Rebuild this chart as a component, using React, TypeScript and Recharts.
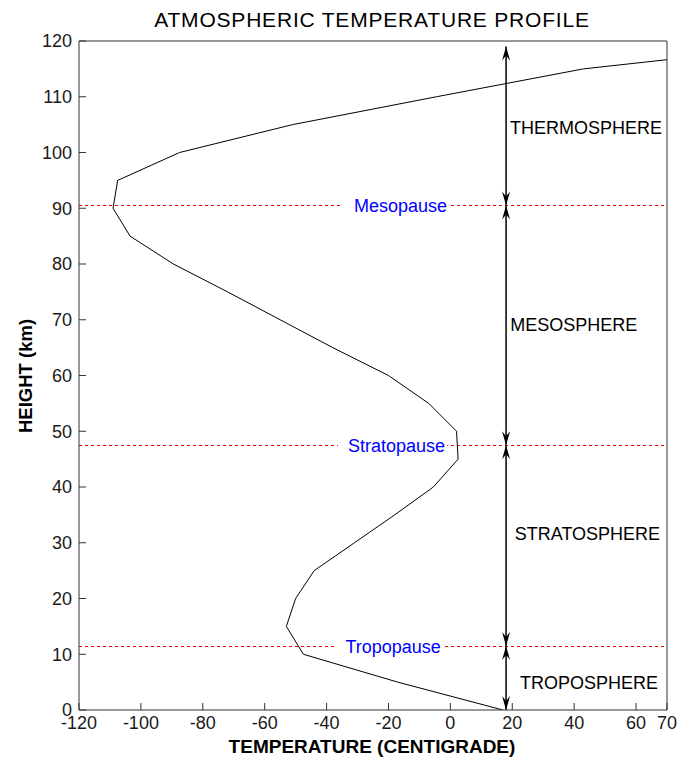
import { LineChart, Line, XAxis, YAxis, ReferenceLine, ReferenceDot } from 'recharts';

// height (km) and temperature (deg C)
const heights = [0, 5, 10, 15, 20, 25, 30, 35, 40, 45, 50, 55, 60, 65, 70, 75, 80, 85, 90, 95, 100, 105, 110, 115, 120];
const temps = [17, -17, -47.5, -53, -50, -44, -31, -18, -5.5, 2.5, 2, -7, -20, -38, -55, -72, -89.5, -103.5, -109, -107.5, -87.5, -51, -4.5, 43, 125];

const xTicks = [-120, -100, -80, -60, -40, -20, 0, 20, 40, 60, 70];
const yTicks = [0, 10, 20, 30, 40, 50, 60, 70, 80, 90, 100, 110, 120];

// boundaries between the layers
const pauseNames = ['Tropopause', 'Stratopause', 'Mesopause'];
const pauseHeights = [11.5, 47.5, 90.5];
const pauseLabelTemps = [-19.8, -18.7, -17.4];

const layerNames = ['TROPOSPHERE', 'STRATOSPHERE', 'MESOSPHERE', 'THERMOSPHERE'];
const layerLabelTemps = [44.8, 44.3, 39.9, 43.8];
const layerLabelHeights = [4.9, 31.6, 69.2, 104.5];

const arrowTemp = 18;
const arrowEnds = [0, 11.5, 47.5, 90.5, 119];

const profile = heights.map((h, i) => ({ height: h, temp: temps[i] }));

const FONT = '"Liberation Sans", Arial, sans-serif';
const AXIS = '#333';

function arrowHead(x: number, y: number, d: number) {
  return `${x},${y} ${x - 4},${y + d * 14} ${x},${y + d * 9} ${x + 4},${y + d * 14}`;
}

function DoubleArrow(props: any) {
  const { x1, y1, x2, y2 } = props;
  const d = y2 > y1 ? 1 : -1;
  return (
    <g>
      <line x1={x1} y1={y1} x2={x2} y2={y2} stroke="#000" strokeWidth={1.5} />
      <polygon points={arrowHead(x1, y1, d)} fill="#000" />
      <polygon points={arrowHead(x2, y2, -d)} fill="#000" />
    </g>
  );
}

// keep the dashed lines on a whole pixel so they stay red, not blurred
function DashedLine(props: any) {
  const { x1, x2, y1 } = props;
  const y = Math.round(y1) + 0.5;
  return <line x1={x1} x2={x2} y1={y} y2={y} stroke="#ff0000" strokeWidth={1} strokeDasharray="3 3" />;
}

const pauseLabel = (text: string) => (props: any) => {
  const { cx, cy } = props;
  return (
    <g>
      <rect x={cx - 54.5} y={cy - 9} width={109} height={18} fill="#fff" />
      <text x={cx + 4} y={cy + 7} textAnchor="middle" fontSize={18} fill="#0000ff" fontFamily={FONT}>
        {text}
      </text>
    </g>
  );
};

const layerLabel = (text: string) => (props: any) => {
  const { cx, cy } = props;
  return (
    <text x={cx} y={cy + 6.5} textAnchor="middle" fontSize={18} fill="#000" fontFamily={FONT}>
      {text}
    </text>
  );
};

export default function App() {
  return (
    <div style={{ position: 'absolute', left: 0, top: 0, width: 679, height: 758, background: '#fff' }}>
      <LineChart
        width={679}
        height={758}
        data={profile}
        margin={{ top: 40, right: 11, bottom: 0, left: 0 }}
        style={{ fontFamily: FONT }}
      >
        <XAxis
          xAxisId="bottom"
          type="number"
          dataKey="temp"
          domain={[-120, 70]}
          allowDataOverflow
          ticks={xTicks}
          interval={0}
          tickSize={-7}
          tickMargin={13}
          height={48}
          stroke={AXIS}
          tick={{ fill: '#1a1a1a', fontSize: 18 }}
        />
        <XAxis
          xAxisId="top"
          orientation="top"
          type="number"
          domain={[-120, 70]}
          allowDataOverflow
          ticks={xTicks}
          interval={0}
          tickSize={-7}
          tick={false}
          height={1}
          stroke={AXIS}
        />
        <YAxis
          yAxisId="left"
          type="number"
          domain={[0, 120]}
          allowDataOverflow
          ticks={yTicks}
          interval={0}
          tickSize={-7}
          tickMargin={14}
          width={79}
          stroke={AXIS}
          tick={{ fill: '#1a1a1a', fontSize: 18 }}
        />
        <YAxis
          yAxisId="right"
          orientation="right"
          type="number"
          domain={[0, 120]}
          allowDataOverflow
          ticks={yTicks}
          interval={0}
          tickSize={-7}
          tick={false}
          width={1}
          stroke={AXIS}
        />

        {pauseHeights.map((h) => (
          <ReferenceLine
            key={`pause-${h}`}
            xAxisId="bottom"
            yAxisId="left"
            y={h}
            shape={DashedLine}
          />
        ))}

        <Line
          xAxisId="bottom"
          yAxisId="left"
          dataKey="height"
          stroke="#000"
          strokeWidth={1}
          dot={false}
          isAnimationActive={false}
        />

        {arrowEnds.slice(1).map((top, i) => (
          <ReferenceLine
            key={`arrow-${i}`}
            xAxisId="bottom"
            yAxisId="left"
            segment={[
              { x: arrowTemp, y: arrowEnds[i] },
              { x: arrowTemp, y: top },
            ]}
            shape={DoubleArrow}
          />
        ))}

        {pauseNames.map((name, i) => (
          <ReferenceDot
            key={name}
            xAxisId="bottom"
            yAxisId="left"
            x={pauseLabelTemps[i]}
            y={pauseHeights[i]}
            shape={pauseLabel(name)}
          />
        ))}

        {layerNames.map((name, i) => (
          <ReferenceDot
            key={name}
            xAxisId="bottom"
            yAxisId="left"
            x={layerLabelTemps[i]}
            y={layerLabelHeights[i]}
            shape={layerLabel(name)}
          />
        ))}

        <text x={372} y={27} textAnchor="middle" fontSize={21} letterSpacing={0.8} fill="#000" fontFamily={FONT}>
          ATMOSPHERIC TEMPERATURE PROFILE
        </text>
        <text x={372} y={753} textAnchor="middle" fontSize={19} fontWeight="bold" fill="#000" fontFamily={FONT}>
          TEMPERATURE (CENTIGRADE)
        </text>
        <text
          x={32}
          y={376}
          transform="rotate(-90 32 376)"
          textAnchor="middle"
          fontSize={18.5}
          fontWeight="bold"
          fill="#000"
          fontFamily={FONT}
        >
          HEIGHT (km)
        </text>
      </LineChart>
    </div>
  );
}
